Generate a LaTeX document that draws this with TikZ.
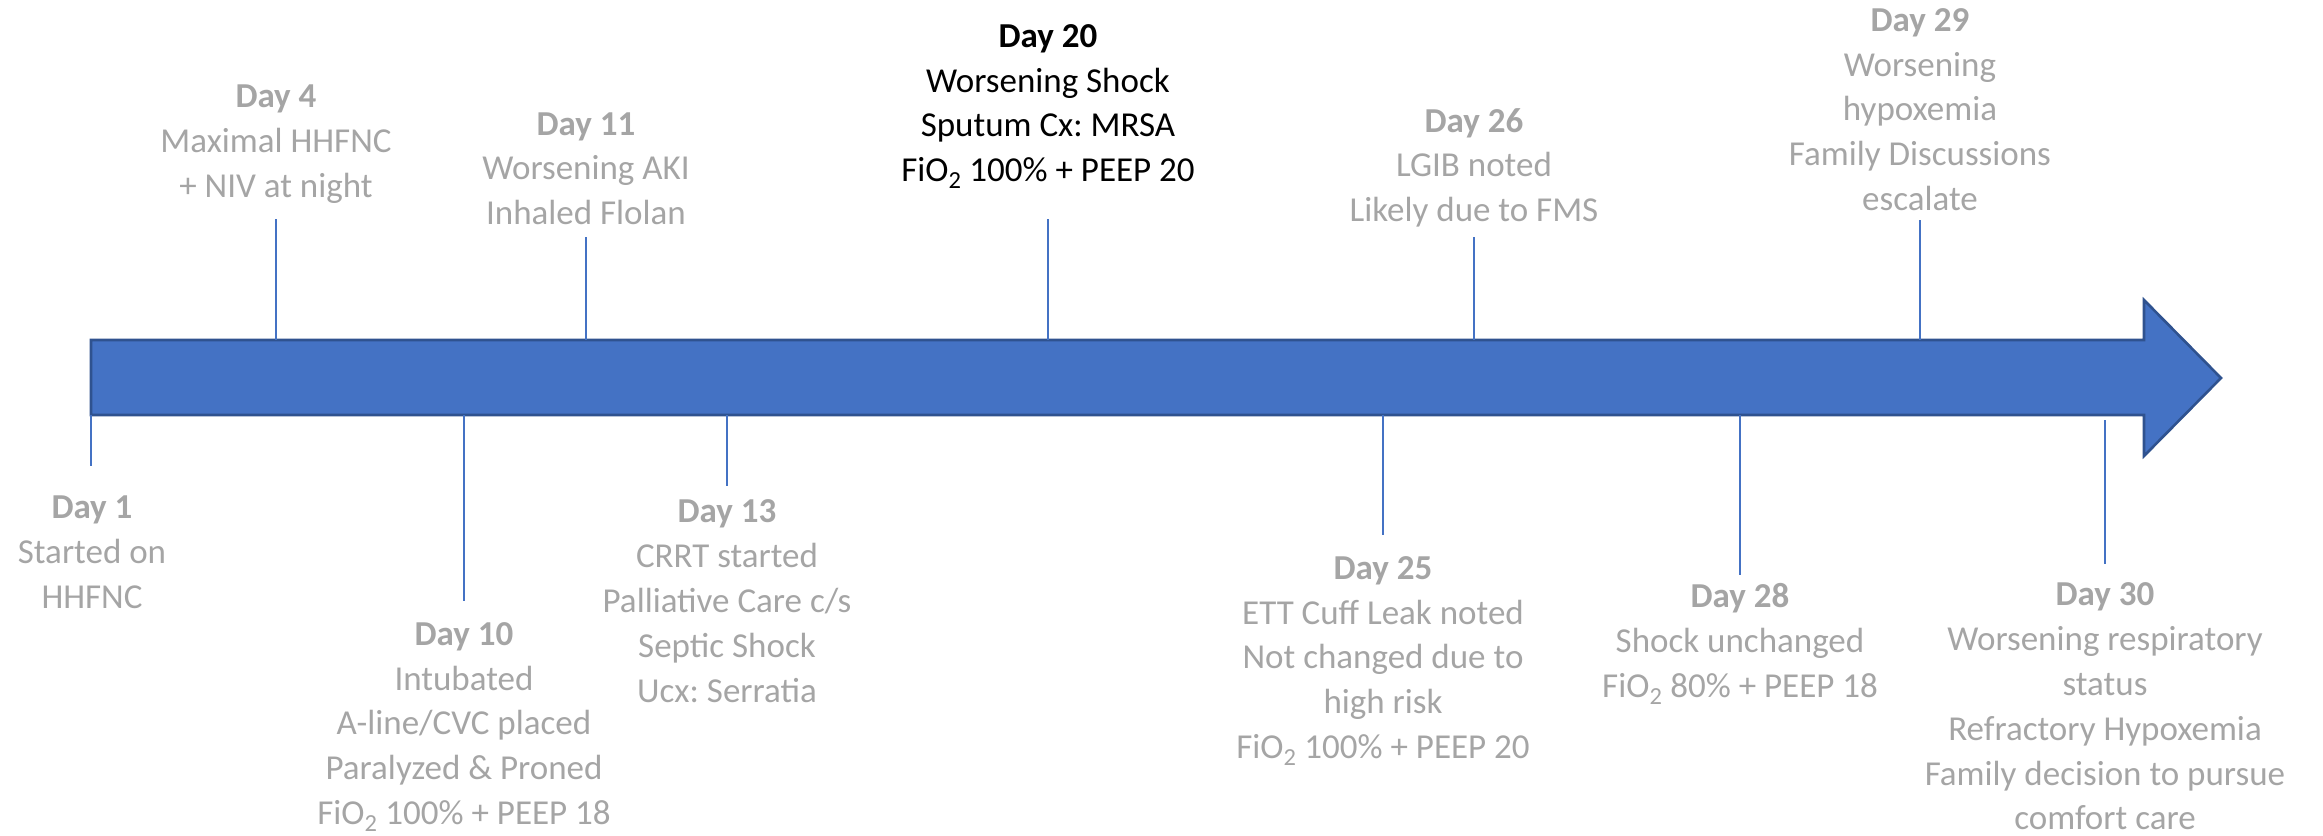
\documentclass[tikz,border=0pt]{standalone}
\usepackage{fontspec}
\setmainfont{Carlito}
\frenchspacing
\definecolor{arrowfill}{HTML}{4472C4}
\definecolor{arrowedge}{HTML}{2F528F}
\definecolor{txtgray}{HTML}{A5A5A5}
\begin{document}
\begin{tikzpicture}[x=1pt,y=-1pt,
  evt/.style={align=center,inner sep=0pt,text=txtgray,font=\fontsize{35}{44.8}\selectfont},
  evtdark/.style={evt,text=black},
  tick/.style={draw=arrowfill,line width=1.6pt},
  timeline/.style={fill=arrowfill,draw=arrowedge,line width=2.6pt,line join=miter}]
\useasboundingbox (0,0) rectangle (2323,835);
% timeline arrow
\draw[timeline] (91,340) -- (2144,340) -- (2144,300) -- (2221,378) -- (2144,456) -- (2144,415) -- (91,415) -- cycle;
% anchors on arrow and tick ends
\coordinate (a1) at (91,415);   \coordinate (e1) at (91,466);
\coordinate (a4) at (276,340);  \coordinate (e4) at (276,219);
\coordinate (a10) at (464,415); \coordinate (e10) at (464,601);
\coordinate (a11) at (586,340); \coordinate (e11) at (586,237);
\coordinate (a13) at (727,415); \coordinate (e13) at (727,486);
\coordinate (a20) at (1048,340); \coordinate (e20) at (1048,219);
\coordinate (a25) at (1383,415); \coordinate (e25) at (1383,535);
\coordinate (a26) at (1474,340); \coordinate (e26) at (1474,237);
\coordinate (a28) at (1740,415); \coordinate (e28) at (1740,575);
\coordinate (a29) at (1920,340); \coordinate (e29) at (1920,220);
\coordinate (a30) at (2105,420); \coordinate (e30) at (2105,564);
\foreach \n in {1,4,10,11,13,20,25,26,28,29,30} {\draw[tick] (a\n) -- (e\n);}
% event texts
\node[evt] (d1) at (92,554.5) {\strut\textbf{Day 1}\\Started on\\HHFNC\strut};
\node[evt] (d4) at (276,143.5) {\strut\textbf{Day 4}\\Maximal HHFNC\\+ NIV at night\strut};
\node[evt] (d10) at (464,726) {\strut\textbf{Day 10}\\Intubated\\A-line/CVC placed\\Paralyzed \& Proned\\FiO\textsubscript{2} 100\% + PEEP 18\strut};
\node[evt] (d11) at (586,171) {\strut\textbf{Day 11}\\Worsening AKI\\Inhaled Flolan\strut};
\node[evt] (d13) at (727,603.5) {\strut\textbf{Day 13}\\CRRT started\\Palliative Care c/s\\Septic Shock\\Ucx: Serratia\strut};
\node[evtdark] (d20) at (1048,105.5) {\strut\textbf{Day 20}\\Worsening Shock\\Sputum Cx: MRSA\\FiO\textsubscript{2} 100\% + PEEP 20\strut};
\node[evt] (d25) at (1383,660) {\strut\textbf{Day 25}\\ETT Cuff Leak noted\\Not changed due to\\high risk\\FiO\textsubscript{2} 100\% + PEEP 20\strut};
\node[evt] (d26) at (1474,168) {\strut\textbf{Day 26}\\LGIB noted\\Likely due to FMS\strut};
\node[evt] (d28) at (1740,643.5) {\strut\textbf{Day 28}\\Shock unchanged\\FiO\textsubscript{2} 80\% + PEEP 18\strut};
\node[evt] (d29) at (1920,112) {\strut\textbf{Day 29}\\Worsening\\hypoxemia\\Family Discussions\\escalate\strut};
\node[evt] (d30) at (2105,709) {\strut\textbf{Day 30}\\Worsening respiratory\\status\\Refractory Hypoxemia\\Family decision to pursue\\comfort care\strut};
\end{tikzpicture}
\end{document}
